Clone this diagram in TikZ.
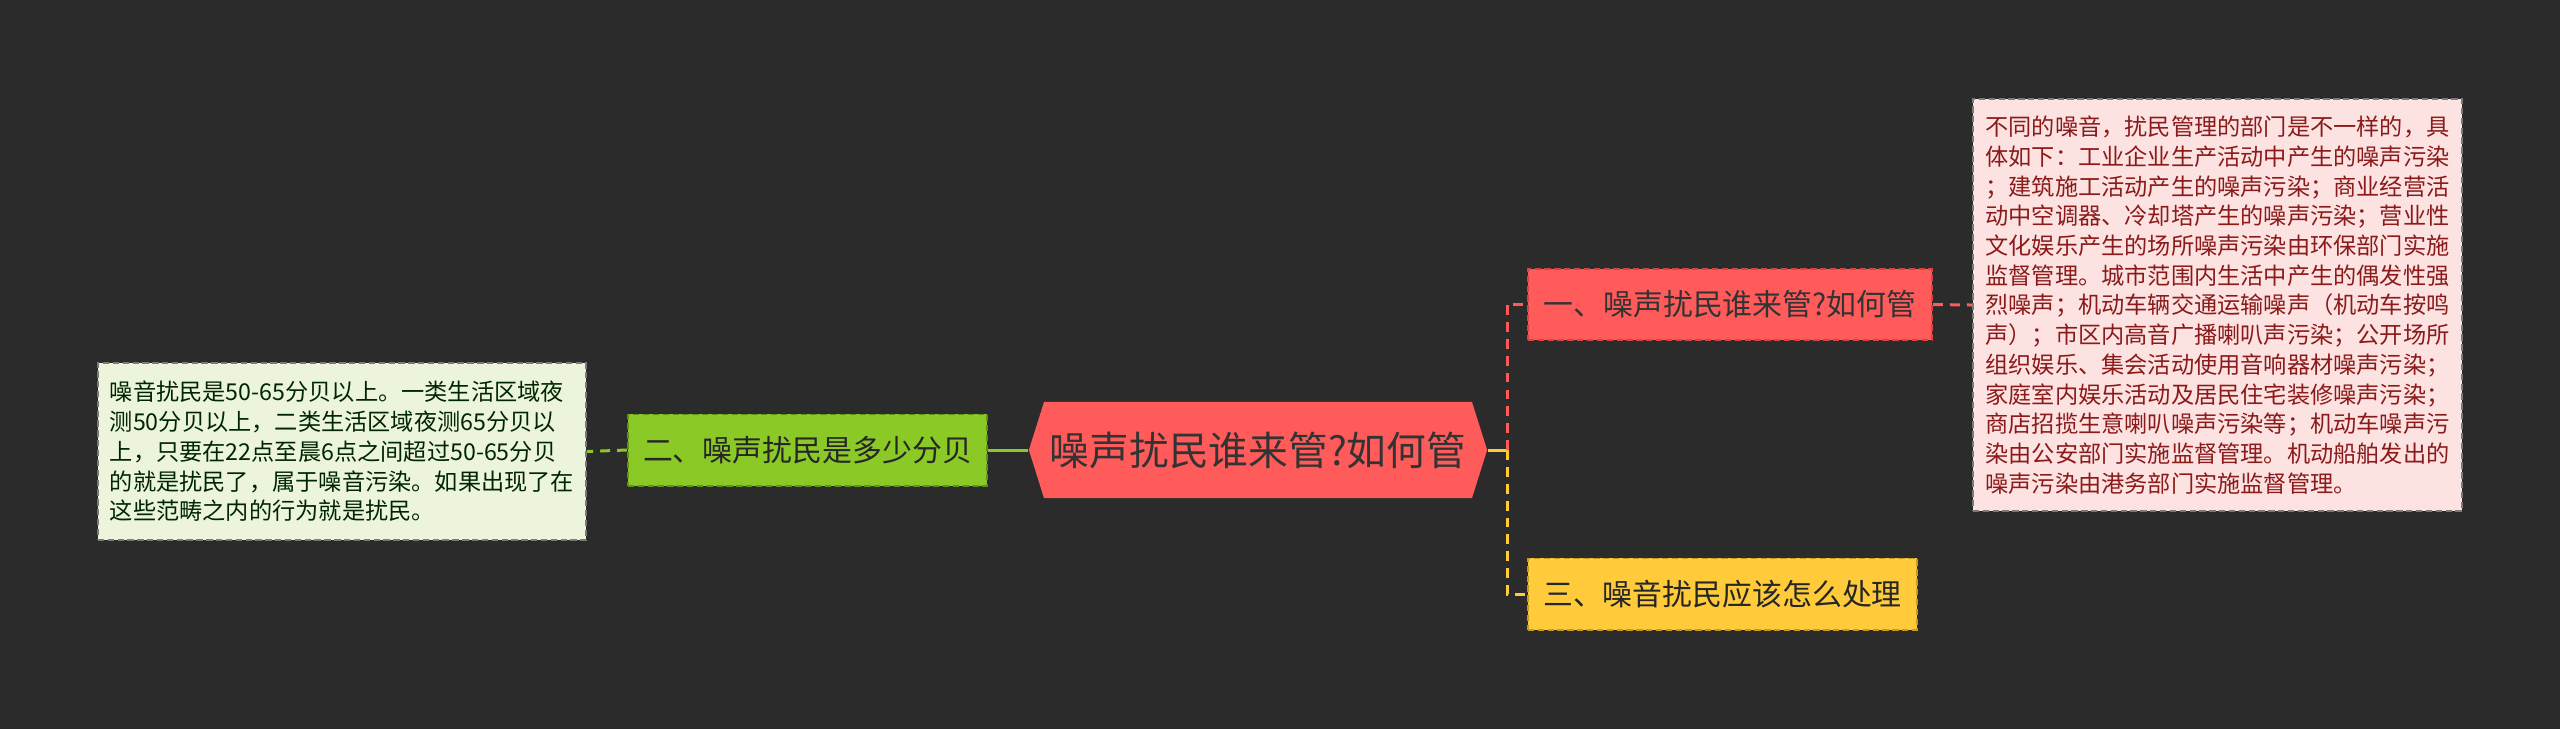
\documentclass[tikz,border=0pt]{standalone}
\usepackage{fontspec}
\setmainfont{Noto Sans CJK SC}
\usetikzlibrary{shapes.symbols}
\definecolor{bg}{HTML}{2B2B2B}
\definecolor{redfill}{HTML}{FF5B5B}
\definecolor{redline}{HTML}{D84444}
\definecolor{greenfill}{HTML}{8AC926}
\definecolor{greenline}{HTML}{5E9414}
\definecolor{yellowfill}{HTML}{FFCB3A}
\definecolor{yellowline}{HTML}{C89A1E}
\definecolor{pinkfill}{HTML}{FDE2E2}
\definecolor{palegreen}{HTML}{ECF5DC}
\definecolor{boxline}{HTML}{7A7A7A}
\definecolor{pinktext}{HTML}{8B1A1A}

\begin{document}
\begin{tikzpicture}[x=0.01cm, y=-0.01cm,
  root/.style={signal, signal to=east and west, signal pointer angle=145,
    fill=redfill, text=black!80, inner sep=0pt, minimum width=4.58cm,
    minimum height=0.96cm, font=\fontsize{11.3}{13}\selectfont},
  topic/.style={draw, dash pattern=on 1.8pt off 1pt, line width=0.55pt,
    inner sep=0pt, minimum height=0.71cm, font=\fontsize{8.5}{10}\selectfont},
  desc/.style={draw=boxline, dash pattern=on 1.8pt off 1pt, line width=0.55pt,
    align=left, inner sep=0pt, font=\fontsize{6.6}{8.45}\selectfont},
  link/.style={line width=0.85pt},
  dlink/.style={line width=0.85pt, dash pattern=on 2.8pt off 2pt}]
\fill[bg] (0,0) rectangle (2560,729);
\useasboundingbox (0,0) rectangle (2560,729);
% centre and branches
\node[root] (root) at (1258,450) {噪声扰民谁来管?如何管};
\node[topic, fill=redfill, draw=redline, text=black!80, minimum width=4.04cm] (one) at (1730,304.5) {一、噪声扰民谁来管?如何管};
\node[topic, fill=yellowfill, draw=yellowline, text=black!85, minimum width=3.89cm] (three) at (1722.5,594) {三、噪音扰民应该怎么处理};
\node[topic, fill=greenfill, draw=greenline, text=black!85, minimum width=3.59cm] (two) at (807.5,450) {二、噪声扰民是多少分贝};
% detail boxes
\node[desc, fill=pinkfill, text=pinktext, minimum width=4.89cm, minimum height=4.12cm] (rdesc) at (2217.5,305) {不同的噪音，扰民管理的部门是不一样的，具\\体如下：工业企业生产活动中产生的噪声污染\\；建筑施工活动产生的噪声污染；商业经营活\\动中空调器、冷却塔产生的噪声污染；营业性\\文化娱乐产生的场所噪声污染由环保部门实施\\监督管理。城市范围内生活中产生的偶发性强\\烈噪声；机动车辆交通运输噪声（机动车按鸣\\声）；市区内高音广播喇叭声污染；公开场所\\组织娱乐、集会活动使用音响器材噪声污染；\\家庭室内娱乐活动及居民住宅装修噪声污染；\\商店招揽生意喇叭噪声污染等；机动车噪声污\\染由公安部门实施监督管理。机动船舶发出的\\噪声污染由港务部门实施监督管理。};
\node[desc, fill=palegreen, text=green!15!black, minimum width=4.88cm, minimum height=1.77cm] (gdesc) at (342,451.5) {噪音扰民是50-65分贝以上。一类生活区域夜\\测50分贝以上，二类生活区域夜测65分贝以\\上，只要在22点至晨6点之间超过50-65分贝\\的就是扰民了，属于噪音污染。如果出现了在\\这些范畴之内的行为就是扰民。};
\coordinate (fork) at (1507,450);
% connectors
\draw[link, yellowfill] (root.east) -- (fork);
\draw[dlink, redfill] (fork) |- (one.west);
\draw[dlink, yellowfill] (fork) |- (three.west);
\draw[dlink, redfill] (one.east) -- (rdesc.west);
\draw[link, greenfill] (root.west) -- (two.east);
\draw[dlink, greenfill] (two.west) -- (gdesc.east);
\end{tikzpicture}
\end{document}
